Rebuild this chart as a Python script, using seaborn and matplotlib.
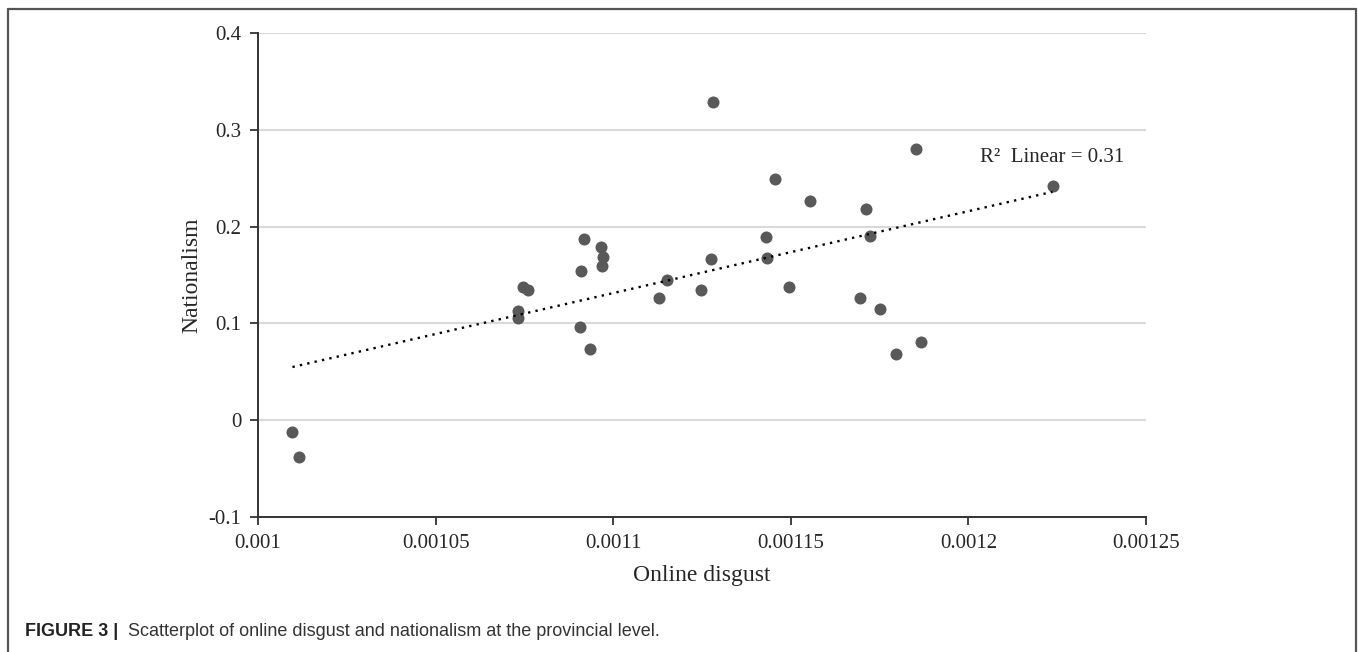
import matplotlib
matplotlib.use("Agg")
import matplotlib.pyplot as plt
import seaborn as sns
import pandas as pd
from matplotlib.lines import Line2D

# province-level values
online_disgust = [
    0.0010097, 0.0010115, 0.0010745, 0.0010760, 0.0010733, 0.0010733,
    0.0010918, 0.0010910, 0.0010906, 0.0010934, 0.0010965, 0.0010970,
    0.0010968, 0.0011151, 0.0011128, 0.0011246, 0.0011280, 0.0011853,
    0.0011456, 0.0011554, 0.0011712, 0.0012237, 0.0011429, 0.0011276,
    0.0011433, 0.0011723, 0.0011495, 0.0011696, 0.0011751, 0.0011795,
    0.0011866,
]
nationalism = [
    -0.0124, -0.0378, 0.1375, 0.1340, 0.1127, 0.1058,
    0.1873, 0.1546, 0.0962, 0.0732, 0.1794, 0.1690,
    0.1590, 0.1450, 0.1260, 0.1344, 0.3289, 0.2804,
    0.2491, 0.2261, 0.2186, 0.2416, 0.1890, 0.1663,
    0.1673, 0.1904, 0.1371, 0.1261, 0.1151, 0.0687,
    0.0804,
]
x_ticks = [0.001, 0.00105, 0.0011, 0.00115, 0.0012, 0.00125]
x_tick_labels = ["0.001", "0.00105", "0.0011", "0.00115", "0.0012", "0.00125"]
y_ticks = [-0.1, 0, 0.1, 0.2, 0.3, 0.4]
y_tick_labels = ["-0.1", "0", "0.1", "0.2", "0.3", "0.4"]
r2_label = "R\u00b2  Linear = 0.31"

df = pd.DataFrame({"Online disgust": online_disgust, "Nationalism": nationalism})

sns.set_style("white")
plt.rcParams["font.family"] = ["Liberation Serif", "DejaVu Serif"]

fig = plt.figure(figsize=(13.58, 6.52), dpi=100)
ax = fig.add_axes([258 / 1358, 1 - 517 / 652, 888 / 1358, 484 / 652])

sns.regplot(data=df, x="Online disgust", y="Nationalism", ax=ax, ci=None,
            scatter_kws={"s": 75, "color": "#595959", "alpha": 1, "linewidths": 0},
            line_kws={"color": "black", "lw": 1.7, "linestyle": (0, (1, 2.2))})

ax.set_xlim(0.001, 0.00125)
ax.set_ylim(-0.1, 0.4)
ax.set_xticks(x_ticks)
ax.set_xticklabels(x_tick_labels, fontsize=15)
ax.set_yticks(y_ticks)
ax.set_yticklabels(y_tick_labels, fontsize=15)
ax.tick_params(axis="both", direction="out", length=6, width=1.3, color="#333333",
               pad=6, left=True, bottom=True)
ax.set_xlabel("Online disgust", fontsize=17, labelpad=9)
ax.set_ylabel("Nationalism", fontsize=17, labelpad=4.5)

ax.grid(axis="y", color="#d9d9d9", lw=1.5)
ax.set_axisbelow(True)
for side in ["top", "right"]:
    ax.spines[side].set_visible(False)
for side in ["left", "bottom"]:
    ax.spines[side].set_color("#333333")
    ax.spines[side].set_linewidth(1.4)

ax.text(0.0012033, 0.271, r2_label, fontsize=15, ha="left", va="center")

# outer frame of the figure panel
frame_kw = dict(color="#555555", lw=1.6, transform=fig.transFigure)
fig.add_artist(Line2D([8 / 1358, 8 / 1358], [0, 1 - 9 / 652], **frame_kw))
fig.add_artist(Line2D([8 / 1358, 1356 / 1358], [1 - 9 / 652, 1 - 9 / 652], **frame_kw))
fig.add_artist(Line2D([1356 / 1358, 1356 / 1358], [0, 1 - 9 / 652], **frame_kw))

cap_y = 1 - 632 / 652
fig.text(25 / 1358, cap_y, "FIGURE 3 |", fontsize=13, fontweight="bold",
         family=["Liberation Sans"], color="#222222", va="center")
fig.text(128 / 1358, cap_y, "Scatterplot of online disgust and nationalism at the provincial level.",
         fontsize=13, family=["Liberation Sans"], color="#333333", va="center")

fig.savefig("out.png", dpi=100)
